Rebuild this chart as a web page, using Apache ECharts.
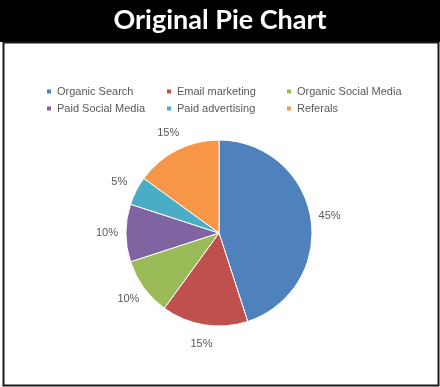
<!DOCTYPE html>
<html>
<head>
<meta charset="utf-8">
<script src="https://cdn.jsdelivr.net/npm/echarts@6/dist/echarts.min.js"></script>
<style>html,body{margin:0;padding:0;background:#fff;}#c{width:440px;height:387px;}</style>
</head>
<body>
<div id="c"></div>
<script>
var categories = ['Organic Search', 'Email marketing', 'Organic Social Media', 'Paid Social Media', 'Paid advertising', 'Referals'];
var shares = [45, 15, 10, 10, 5, 15];
var colors = ['#4F81BD', '#C0504D', '#9BBB59', '#8064A2', '#4BACC6', '#F79646'];
var titleText = 'Original Pie Chart';

var data = categories.map(function (n, i) { return { name: n, value: shares[i] }; });
var txt = { color: '#595959', fontSize: 11, fontFamily: 'Liberation Sans, Open Sans, sans-serif' };
var legends = categories.map(function (n, i) {
  return {
    orient: 'horizontal', left: 45 + (i % 3) * 120, top: i < 3 ? 86 : 103, padding: 0,
    itemWidth: 6, itemHeight: 6, icon: 'rect', selectedMode: false,
    textStyle: txt, data: [n]
  };
});
var chart = echarts.init(document.getElementById('c'));
chart.setOption({
  color: colors,
  animation: false,
  graphic: [
    { type: 'rect', shape: { x: 0, y: 0, width: 440, height: 42 }, style: { fill: '#000' }, z: 0 },
    { type: 'rect', shape: { x: 3.5, y: 42.5, width: 435, height: 343 }, style: { fill: 'none', stroke: '#1a1a1a', lineWidth: 2 }, z: 0 },
    { type: 'text', left: 'center', top: 7, style: { text: titleText, fill: '#fff', font: 'bold 27px Lato, sans-serif' }, z: 1 }
  ],
  legend: legends,
  series: [
    {
      type: 'pie', center: [219, 233], radius: [0, 93], startAngle: 90, clockwise: true,
      itemStyle: { borderColor: '#fff', borderWidth: 1 },
      label: { show: false }, labelLine: { show: false }, silent: true,
      data: data
    },
    {
      type: 'pie', center: [219, 233], radius: [100, 118], startAngle: 90, clockwise: true,
      itemStyle: { color: 'rgba(0,0,0,0)' }, silent: true,
      label: Object.assign({ show: true, position: 'inside', formatter: '{c}%' }, txt),
      labelLine: { show: false },
      data: data
    }
  ]
});
</script>
</body>
</html>
